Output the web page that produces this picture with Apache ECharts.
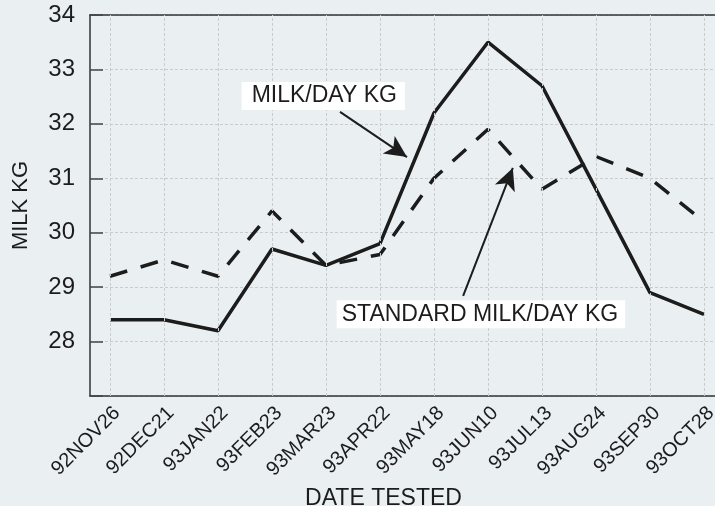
<!DOCTYPE html>
<html>
<head>
<meta charset="utf-8">
<script src="https://cdn.jsdelivr.net/npm/echarts@6/dist/echarts.min.js"></script>
<style>
  html, body { margin: 0; padding: 0; background: #eaf0f1; }
  #chart { width: 715px; height: 506px; }
</style>
</head>
<body>
<div id="chart"></div>
<script>
var dates = ['92NOV26', '92DEC21', '93JAN22', '93FEB23', '93MAR23', '93APR22',
             '93MAY18', '93JUN10', '93JUL13', '93AUG24', '93SEP30', '93OCT28'];
var milkDay = [28.4, 28.4, 28.2, 29.7, 29.4, 29.8, 32.2, 33.5, 32.7, 30.8, 28.9, 28.5];
var stdMilkDay = [29.2, 29.5, 29.2, 30.4, 29.4, 29.6, 31.0, 31.9, 30.8, 31.4, 31.0, 30.2];
var yTicks = [28, 29, 30, 31, 32, 33, 34];

var font = 'Liberation Sans, Arial, Helvetica, sans-serif';
var ink = '#1c1c1c';

function pairs(vals){
	var out = [];
	for(var i = 0; i < vals.length; i++){
		out.push([i, vals[i]]);
	}
	return out;
}

var idx = [];
var gridLines = [];
for(var i = 0; i < dates.length; i++){
	idx.push(i);
	gridLines.push({xAxis: i});
}

var xMin = -0.37, xMax = 11.204;

var chart = echarts.init(document.getElementById('chart'));

chart.setOption({
	backgroundColor: '#eaf0f1',
	animation: false,
	grid: {left: 90, top: 15, right: 0, bottom: 110, outerBoundsMode: 'none', containLabel: false},
	xAxis: [
		{
			type: 'value',
			min: xMin,
			max: xMax,
			name: 'DATE TESTED',
			nameLocation: 'middle',
			nameGap: 82,
			nameTextStyle: {fontFamily: font, fontSize: 23, color: ink, padding: [0, 38, 0, 0]},
			axisLine: {show: true, onZero: false, lineStyle: {color: '#333', width: 1.5}},
			axisTick: {show: false},
			splitLine: {show: false},
			axisLabel: {
				customValues: idx,
				rotate: 45,
				margin: 7,
				verticalAlign: 'top',
				fontFamily: font,
				fontSize: 20,
				color: ink,
				formatter: function(v){ return dates[Math.round(v)]; }
			}
		},
		{
			type: 'value',
			position: 'top',
			min: xMin,
			max: xMax,
			axisLine: {show: true, onZero: false, lineStyle: {color: '#333', width: 1.5}},
			axisTick: {show: false},
			axisLabel: {show: false},
			splitLine: {show: false}
		}
	],
	yAxis: {
		type: 'value',
		min: 27,
		max: 34,
		interval: 1,
		name: 'MILK KG',
		nameLocation: 'middle',
		nameGap: 58,
		nameTextStyle: {fontFamily: font, fontSize: 22, color: ink},
		axisLine: {show: true, onZero: false, lineStyle: {color: '#333', width: 1.5}},
		axisTick: {show: true, inside: true, length: 13, lineStyle: {color: '#444', width: 1.5}},
		axisLabel: {
			margin: 15,
			fontFamily: font,
			fontSize: 24,
			color: ink,
			formatter: function(v){ return yTicks.indexOf(v) >= 0 ? String(v) : ''; }
		},
		splitLine: {show: true, lineStyle: {color: '#c9cccd', type: [3, 2], width: 1}}
	},
	series: [
		{
			name: 'grid',
			type: 'line',
			data: [],
			z: 1,
			silent: true,
			markLine: {
				silent: true,
				symbol: 'none',
				label: {show: false},
				lineStyle: {color: '#c9cccd', type: [3, 2], width: 1},
				data: gridLines
			}
		},
		{
			name: 'STANDARD MILK/DAY KG',
			type: 'line',
			data: pairs(stdMilkDay),
			symbol: 'none',
			z: 3,
			lineStyle: {color: ink, width: 3.5, type: [18, 14]},
			markLine: {
				silent: true,
				symbol: ['none', 'arrow'],
				symbolSize: [16, 22],
				label: {show: false},
				lineStyle: {color: ink, width: 2, type: 'solid'},
				data: [
					[{coord: [6.54, 28.84]}, {coord: [7.46, 31.19]}]
				]
			},
			markPoint: {
				silent: true,
				symbol: 'rect',
				symbolSize: 1,
				itemStyle: {color: 'rgba(0,0,0,0)'},
				label: {
					show: true,
					position: 'inside',
					formatter: '{b}',
					fontFamily: font,
					fontSize: 23,
					color: ink,
					backgroundColor: '#ffffff',
					padding: [3, 7, 2, 5],
					lineHeight: 23
				},
				data: [{name: 'STANDARD MILK/DAY KG', coord: [6.87, 28.50]}]
			}
		},
		{
			name: 'MILK/DAY KG',
			type: 'line',
			data: pairs(milkDay),
			symbol: 'none',
			z: 4,
			lineStyle: {color: ink, width: 3.5},
			markLine: {
				silent: true,
				symbol: ['none', 'arrow'],
				symbolSize: [16, 22],
				label: {show: false},
				lineStyle: {color: ink, width: 2, type: 'solid'},
				data: [
					[{coord: [4.26, 32.22]}, {coord: [5.50, 31.39]}]
				]
			},
			markPoint: {
				silent: true,
				symbol: 'rect',
				symbolSize: 1,
				itemStyle: {color: 'rgba(0,0,0,0)'},
				label: {
					show: true,
					position: 'inside',
					formatter: '{b}',
					fontFamily: font,
					fontSize: 23,
					color: ink,
					backgroundColor: '#ffffff',
					padding: [3, 8, 2, 10],
					lineHeight: 23
				},
				data: [{name: 'MILK/DAY KG', coord: [3.95, 32.51]}]
			}
		}
	]
});
</script>
</body>
</html>
